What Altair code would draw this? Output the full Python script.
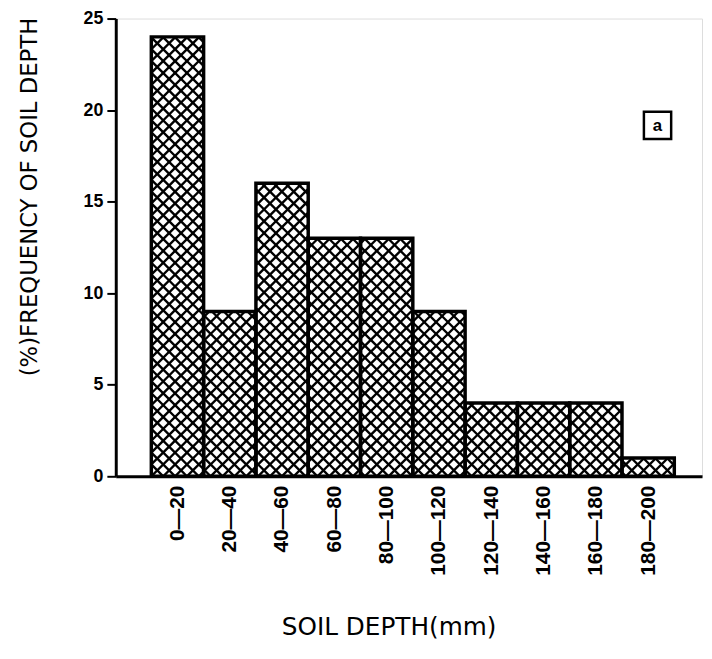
import altair as alt
import pandas as pd
import numpy as np

# ---- data ----
bin_start = [0, 20, 40, 60, 80, 100, 120, 140, 160, 180]
bin_end = [20, 40, 60, 80, 100, 120, 140, 160, 180, 200]
bin_labels = ["0—20", "20—40", "40—60", "60—80", "80—100",
              "100—120", "120—140", "140—160", "160—180", "180—200"]
frequency = [24, 9, 16, 13, 13, 9, 4, 4, 4, 1]
y_ticks = [0, 5, 10, 15, 20, 25]

# ---- layout ----
W, H = 593, 463
XMIN, XMAX = -13.6, 210.6
YMAX = 25
kx = W / (XMAX - XMIN)
ky = H / YMAX
P = 12.0  # horizontal period of the cross-hatch, px

bars = pd.DataFrame({"start": bin_start, "end": bin_end,
                     "freq": frequency, "label": bin_labels})
bars["base"] = 0
bars["mid"] = (bars["start"] + bars["end"]) / 2

# cross-hatch segments derived from each bar's rectangle
segs = []
for s, e, f in zip(bin_start, bin_end, frequency):
    a = (s - XMIN) * kx
    b = (e - XMIN) * kx
    h = f * ky
    for k in range(int(np.floor((a - h) / P)) - 1, int(np.ceil(b / P)) + 2):
        c = k * P
        p0, p1 = max(a, c), min(b, c + h)
        if p1 > p0:
            segs.append((p0, p0 - c, p1, p1 - c))
    for k in range(int(np.floor(a / P)) - 1, int(np.ceil((b + h) / P)) + 2):
        c = k * P
        p0, p1 = max(a, c - h), min(b, c)
        if p1 > p0:
            segs.append((p0, c - p0, p1, c - p1))
hatch = pd.DataFrame(segs, columns=["px0", "py0", "px1", "py1"])
hatch["x"] = XMIN + hatch["px0"] / kx
hatch["x2"] = XMIN + hatch["px1"] / kx
hatch["y"] = hatch["py0"] / ky
hatch["y2"] = hatch["py1"] / ky

label_expr = "[" + ",".join("'" + l + "'" for l in bin_labels) + "][floor(datum.value/20)]"

xscale = alt.Scale(domain=[XMIN, XMAX], nice=False, zero=False)
yscale = alt.Scale(domain=[0, YMAX], nice=False)

xaxis = alt.Axis(values=[float(m) for m in bars["mid"]], labelExpr=label_expr,
                 labelAngle=-90, labelFont="Liberation Sans", labelFontWeight="bold",
                 labelFontSize=21, labelColor="black", labelPadding=9,
                 ticks=False, domainColor="black", domainWidth=3, grid=False,
                 title="SOIL DEPTH(mm)", titleFont="DejaVu Sans", titleFontWeight="normal",
                 titleFontSize=25, titleColor="black", titleX=276, titleY=152,
                 titleBaseline="middle", titleAlign="center")
yaxis = alt.Axis(values=y_ticks, labelFont="Liberation Sans", labelFontWeight="bold",
                 labelFontSize=18, labelColor="black", labelPadding=4,
                 tickSize=9, tickWidth=2, tickColor="black",
                 domainColor="black", domainWidth=3, grid=False,
                 title="(%)FREQUENCY OF SOIL DEPTH", titleFont="DejaVu Sans",
                 titleFontWeight="normal", titleFontSize=23, titleColor="black",
                 titleX=-87, titleY=180, titleAngle=-90, titleAlign="center",
                 titleBaseline="middle")

base_fill = alt.Chart(bars).mark_bar(fill="white").encode(
    x=alt.X("start:Q", scale=xscale, axis=xaxis),
    x2="end:Q",
    y=alt.Y("freq:Q", scale=yscale, axis=yaxis),
    y2="base:Q",
)

hatch_layer = alt.Chart(hatch).mark_rule(color="black", strokeWidth=2.4, clip=True).encode(
    x=alt.X("x:Q", scale=xscale, axis=xaxis),
    x2="x2:Q",
    y=alt.Y("y:Q", scale=yscale, axis=yaxis),
    y2="y2:Q",
)

outline = alt.Chart(bars).mark_bar(fillOpacity=0, stroke="black", strokeWidth=3.5).encode(
    x=alt.X("start:Q", scale=xscale, axis=xaxis),
    x2="end:Q",
    y=alt.Y("freq:Q", scale=yscale, axis=yaxis),
    y2="base:Q",
)

tag = pd.DataFrame({"t": ["a"]})
tag_box = alt.Chart(tag).mark_point(shape="square", size=760, filled=False,
                                    stroke="black", strokeWidth=2.5, opacity=1).encode(
    x=alt.value(548), y=alt.value(108))
tag_text = alt.Chart(tag).mark_text(font="Liberation Sans", fontWeight="bold",
                                    fontSize=17, color="black").encode(
    x=alt.value(548), y=alt.value(109), text="t:N")

chart = alt.layer(base_fill, hatch_layer, outline, tag_box, tag_text).properties(
    width=W, height=H,
    autosize=alt.AutoSizeParams(type="none"),
    padding={"left": 109, "top": 7, "right": 2, "bottom": 170},
).configure_view(stroke=None).configure(background="white")

chart.save("out.html", embed_options={"renderer": "svg", "actions": False})
